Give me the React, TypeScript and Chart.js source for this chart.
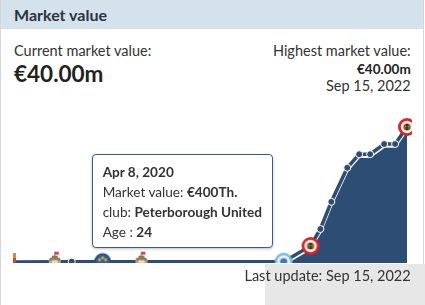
import React, { useEffect, useRef } from "react";
import { Chart, registerables } from "chart.js";

Chart.register(...registerables);

// ---- data ----
const dates = [
  "2014-12-18", "2015-10-01", "2016-01-31", "2016-09-10", "2017-06-17",
  "2020-04-08", "2020-10-19", "2020-12-29", "2021-03-18", "2021-07-11",
  "2021-10-05", "2021-12-23", "2022-04-03", "2022-06-21", "2022-09-15",
];
const values = [0.3, 0.4, 0.4, 0.4, 0.4, 0.4, 5, 10, 18, 28, 32, 32, 35, 35, 40];
const clubs = [
  "Northampton Town", "Newcastle United", "Newcastle United", "Shrewsbury Town", "Newcastle United",
  "Peterborough United", "Brentford FC", "Brentford FC", "Brentford FC", "Brentford FC",
  "Brentford FC", "Brentford FC", "Brentford FC", "Brentford FC", "Brentford FC",
];
const ages = [18, 19, 19, 20, 21, 24, 24, 24, 25, 25, 25, 25, 26, 26, 26];
const hoveredIndex = 5;
const yMin = 0;
const yMax = 40;

const NAVY = "#2e4d74";
const FONT = "Lato, 'Source Sans Pro', 'Noto Sans', sans-serif";

function formatValue(v: number): string {
  if (v < 1) return "€" + Math.round(v * 1000) + "Th.";
  return "€" + v.toFixed(2) + "m";
}
function formatDate(d: string): string {
  return new Date(d + "T00:00:00Z").toLocaleDateString("en-US", {
    month: "short", day: "numeric", year: "numeric", timeZone: "UTC",
  });
}

function makeCanvas(w: number, h: number, draw: (c: CanvasRenderingContext2D) => void) {
  const c = document.createElement("canvas");
  c.width = w;
  c.height = h;
  const ctx = c.getContext("2d")!;
  draw(ctx);
  return c;
}

function crestIcons() {
  const circle = (ctx: CanvasRenderingContext2D, x: number, y: number, r: number, color: string) => {
    ctx.beginPath();
    ctx.arc(x, y, r, 0, Math.PI * 2);
    ctx.fillStyle = color;
    ctx.fill();
  };
  const brentford = makeCanvas(20, 20, (ctx) => {
    circle(ctx, 10, 10, 9, "#d9232d");
    circle(ctx, 10, 10, 6.2, "#f4f0ea");
    circle(ctx, 10, 10, 3.6, "#7a5a28");
    ctx.fillStyle = "#e0b84a";
    ctx.fillRect(8.5, 9, 3, 1.2);
    ctx.fillStyle = "#2b2117";
    ctx.fillRect(9.3, 7, 1.4, 6);
  });
  const peterborough = makeCanvas(20, 20, (ctx) => {
    circle(ctx, 10, 10, 9, "#78b8e3");
    circle(ctx, 10, 10, 6.5, "#eaf3fa");
    circle(ctx, 10, 10, 3.6, "#3f79b5");
  });
  const shrewsbury = makeCanvas(20, 20, (ctx) => {
    circle(ctx, 10, 10, 8.5, "#2c4f82");
    circle(ctx, 10, 10, 6.5, "#3a5f94");
    ctx.fillStyle = "#d8b23a";
    [[7, 8], [13, 8], [10, 6]].forEach(([x, y]) => { ctx.beginPath(); ctx.arc(x, y, 1.5, 0, Math.PI * 2); ctx.fill(); });
  });
  const newcastle = makeCanvas(16, 24, (ctx) => {
    ctx.fillStyle = "#b9a680";
    ctx.fillRect(2, 9, 12, 8);
    ctx.fillStyle = "#8d7b5c";
    ctx.fillRect(5, 6, 6, 4);
    ctx.fillRect(3, 8, 2, 3);
    ctx.fillRect(11, 8, 2, 3);
    ctx.fillStyle = "#dd4a4a";
    ctx.fillRect(8, 2, 4, 3);
    ctx.fillStyle = "#6b5e48";
    ctx.fillRect(7.5, 2, 1, 5);
    ctx.fillStyle = "#efe6d2";
    ctx.fillRect(5, 11, 6, 2);
  });
  const northampton = makeCanvas(8, 20, (ctx) => {
    ctx.fillStyle = "#b6523a";
    ctx.fillRect(2, 1, 3, 18);
    ctx.fillStyle = "#d98a3c";
    ctx.fillRect(2, 1, 3, 5);
  });
  const map: Record<string, HTMLCanvasElement> = {
    "Brentford FC": brentford,
    "Peterborough United": peterborough,
    "Shrewsbury Town": shrewsbury,
    "Newcastle United": newcastle,
    "Northampton Town": northampton,
  };
  return map;
}

const whiteUnderline = {
  id: "whiteUnderline",
  beforeDatasetDraw(chart: any, args: any) {
    if (args.index === 1) {
      const ctx = chart.ctx;
      ctx.save();
      ctx.shadowColor = "rgba(255,255,255,0.95)";
      ctx.shadowOffsetX = 0;
      ctx.shadowOffsetY = 2;
      ctx.shadowBlur = 0;
    }
  },
  afterDatasetDraw(chart: any, args: any) {
    if (args.index === 1) chart.ctx.restore();
  },
};

const CANVAS_TOP = 100;
const CANVAS_H = 168;

export default function App() {
  const canvasRef = useRef<HTMLCanvasElement | null>(null);
  const tipRef = useRef<HTMLDivElement | null>(null);

  useEffect(() => {
    const icons = crestIcons();
    const pts = dates.map((d, i) => ({ x: Date.parse(d), y: values[i] }));
    const styles = clubs.map((c, i) =>
      i === 0 || c !== clubs[i - 1] || i === clubs.length - 1 ? icons[c] : "circle"
    );

    const external = (context: any) => {
      const tip = context.tooltip;
      const el = tipRef.current;
      if (!el) return;
      if (!tip || tip.opacity === 0 || !tip.dataPoints || !tip.dataPoints.length) {
        el.style.display = "none";
        return;
      }
      const i = tip.dataPoints[0].dataIndex;
      el.innerHTML =
        `<div style="font-weight:700">${formatDate(dates[i])}</div>` +
        `<div>Market value: <b>${formatValue(values[i])}</b></div>` +
        `<div>club: <b>${clubs[i]}</b></div>` +
        `<div>Age : <b>${ages[i]}</b></div>`;
      el.style.display = "block";
      const w = el.offsetWidth;
      const h = el.offsetHeight;
      el.style.left = tip.caretX - 11 - w + "px";
      el.style.top = CANVAS_TOP + tip.caretY - 14 - h + "px";
    };

    const chart = new Chart(canvasRef.current!, {
      type: "line",
      data: {
        datasets: [
          {
            data: pts,
            showLine: false,
            pointStyle: styles as any,
            pointRadius: 3.5,
            pointBackgroundColor: NAVY,
            pointBorderColor: "#ffffff",
            pointBorderWidth: 1,
            clip: { left: 10, right: 5, top: 15, bottom: 0 } as any,
          },
          {
            data: pts,
            borderColor: NAVY,
            borderWidth: 3.5,
            pointRadius: 0,
            fill: false,
            tension: 0,
            clip: { left: 2, right: 2, top: 5, bottom: 0 } as any,
          },
          {
            data: pts,
            borderWidth: 0,
            pointRadius: 0,
            backgroundColor: NAVY,
            fill: "origin",
            tension: 0,
          },
        ],
      },
      options: {
        animation: false,
        responsive: false,
        events: [],
        layout: { padding: { left: 15, right: 18, top: 27, bottom: 5 } },
        scales: {
          x: { type: "linear", display: false, min: pts[0].x, max: pts[pts.length - 1].x },
          y: { display: false, min: yMin, max: yMax },
        },
        plugins: {
          legend: { display: false },
          tooltip: { enabled: false, external, mode: "nearest", intersect: false },
        },
      },
      plugins: [whiteUnderline],
    });

    const el = chart.getDatasetMeta(0).data[hoveredIndex];
    chart.tooltip!.setActiveElements([{ datasetIndex: 0, index: hoveredIndex }], { x: el.x, y: el.y });
    chart.draw();

    return () => {
      chart.destroy();
    };
  }, []);

  const txt = (extra: React.CSSProperties): React.CSSProperties => ({
    position: "absolute",
    lineHeight: 1.2,
    whiteSpace: "nowrap",
    color: "#333",
    ...extra,
  });

  return (
    <div
      style={{
        position: "absolute",
        left: 0,
        top: 0,
        width: 425,
        height: 305,
        background: "#fff",
        fontFamily: FONT,
        overflow: "hidden",
      }}
    >
      <div style={{ position: "absolute", left: 0, top: 0, width: 1, height: 305, background: "#d6d6d6" }} />
      <div style={{ position: "absolute", left: 423, top: 0, width: 1, height: 305, background: "#d6d6d6" }} />
      <div
        style={{
          position: "absolute", left: 1, top: 0, width: 422, height: 29, background: "#d4e2ec",
        }}
      />
      <div style={txt({ left: 14, top: 20.5 - 15.8, fontSize: 16, fontWeight: 700, color: "#2a3340" })}>Market value</div>

      <div style={txt({ left: 14, top: 42.2, fontSize: 14.5 })}>Current market value:</div>
      <div style={txt({ left: 14, top: 59.5, fontSize: 22.5, fontWeight: 700, color: "#222" })}>€40.00m</div>

      <div style={txt({ right: 14.3, top: 42.2, fontSize: 14.5, textAlign: "right" })}>Highest market value:</div>
      <div style={txt({ right: 14.3, top: 60.7, fontSize: 13.5, fontWeight: 700, textAlign: "right", color: "#222" })}>€40.00m</div>
      <div style={txt({ right: 14.3, top: 77.4, fontSize: 14.5, textAlign: "right" })}>Sep 15, 2022</div>

      <canvas
        ref={canvasRef}
        width={425}
        height={CANVAS_H}
        style={{ position: "absolute", left: 0, top: CANVAS_TOP, width: 425, height: CANVAS_H }}
      />

      <div style={{ position: "absolute", left: 265, top: 264, width: 160, height: 41, background: "#e7e7e7" }} />
      <div style={txt({ right: 14.3, top: 267.4, fontSize: 14.5, textAlign: "right" })}>Last update: Sep 15, 2022</div>

      <div
        ref={tipRef}
        style={{
          position: "absolute",
          display: "none",
          background: "#fff",
          border: "1.5px solid #3f5b80",
          borderRadius: 4,
          boxShadow: "0 1px 3px rgba(0,0,0,0.25)",
          padding: "7px 10px 5px 10px",
          fontSize: 13.6,
          lineHeight: "20px",
          color: "#333",
          whiteSpace: "nowrap",
          fontFamily: FONT,
        }}
      />
    </div>
  );
}
